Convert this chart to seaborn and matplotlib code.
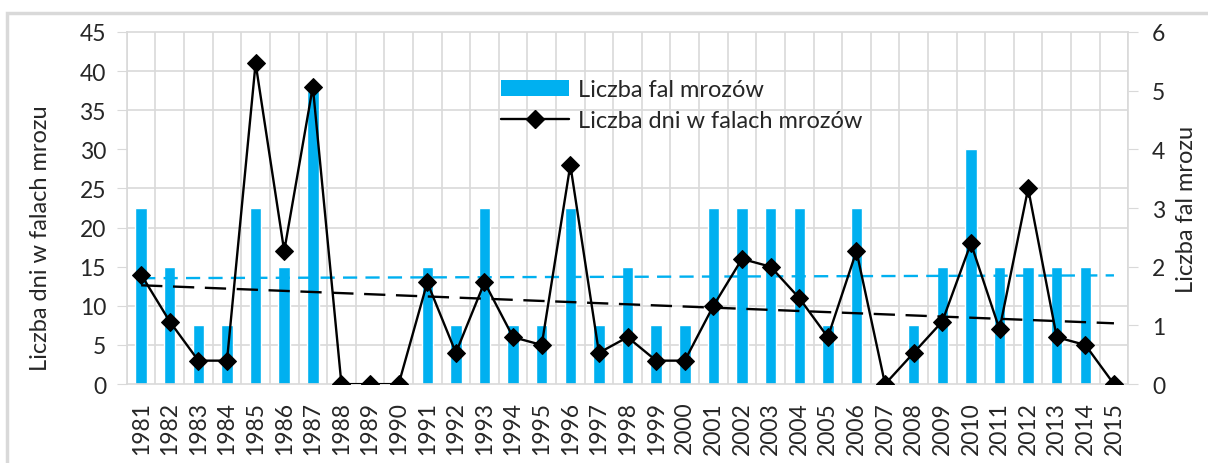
import numpy as np
import matplotlib
matplotlib.use("Agg")
import matplotlib.pyplot as plt
import seaborn as sns
from matplotlib.patches import Rectangle, Patch
from matplotlib.lines import Line2D

# ---------------------------
# Data
# ---------------------------
years = [str(y) for y in range(1981, 2016)]
waves = [3, 2, 1, 1, 3, 2, 5, 0, 0, 0,
         2, 1, 3, 1, 1, 3, 1, 2, 1, 1,
         3, 3, 3, 3, 1, 3, 0, 1, 2, 4,
         2, 2, 2, 2, 0]
days = [14, 8, 3, 3, 41, 17, 38, 0, 0, 0,
        13, 4, 13, 6, 5, 28, 4, 6, 3, 3,
        10, 16, 15, 11, 6, 17, 0, 4, 8, 18,
        7, 25, 6, 5, 0]
label_waves = "Liczba fal mrozów"
label_days = "Liczba dni w falach mrozów"

sns.set_style("white")
plt.rcParams["font.family"] = ["Lato", "DejaVu Sans"]

grid_c = "#D9D9D9"
blue = "#00B0F0"
text_c = "#262626"
tick_fs = 16.5
label_fs = 17

fig = plt.figure(figsize=(12.08, 4.64), dpi=100)
ax_bars = fig.add_axes([0.105, 0.170, 0.829, 0.759])
ax_line = ax_bars.twinx()
# bars on the right axis (back), line on the left axis (front)
ax_bars.yaxis.tick_right()
ax_bars.yaxis.set_label_position("right")
ax_line.yaxis.tick_left()
ax_line.yaxis.set_label_position("left")

# ---------------------------
# Bars
# ---------------------------
sns.barplot(x=years, y=waves, color=blue, width=0.4, saturation=1,
            ax=ax_bars, zorder=2)
ax_bars.set_ylim(0, 6)
ax_bars.set_xlim(-0.5, len(years) - 0.5)
ax_bars.set_yticks(range(0, 7))
ax_bars.set_ylabel("Liczba fal mrozu", fontsize=label_fs, color=text_c,
                   labelpad=8)
ax_bars.set_xlabel("")

# gridlines follow the left axis (every 5 days) and category boundaries
ax_bars.set_yticks(np.arange(0, 45.01, 5) * 6 / 45, minor=True)
ax_bars.set_xticks(np.arange(-0.5, len(years)), minor=True)
ax_bars.grid(which="minor", color=grid_c, linewidth=1.2, zorder=0)
ax_bars.grid(which="major", visible=False)
ax_bars.set_axisbelow(True)
ax_bars.tick_params(axis="x", which="major", length=0, pad=12,
                    labelrotation=90, labelsize=tick_fs, labelcolor=text_c)
ax_bars.tick_params(axis="x", which="minor", length=8, color=grid_c, width=1.2)
ax_bars.tick_params(axis="y", which="major", length=7, color=grid_c,
                    pad=10, labelsize=tick_fs, labelcolor=text_c,
                    right=True, left=False, labelright=True, labelleft=False)
ax_bars.tick_params(axis="y", which="minor", length=0)
for s in ax_bars.spines.values():
    s.set_color(grid_c)
    s.set_linewidth(1.2)

# bars trend (blue dashed)
x = np.arange(len(years))
p_w = np.polyfit(x, waves, 1)
ax_bars.plot([x[0], x[-1]], np.polyval(p_w, [x[0], x[-1]]), color=blue,
             linestyle=(0, (6, 3.5)), linewidth=1.7, zorder=3)

# ---------------------------
# Line
# ---------------------------
sns.lineplot(x=x, y=days, color="black", marker="D", markersize=9,
             markeredgecolor="black", linewidth=1.7, ax=ax_line, zorder=5)
p_d = np.polyfit(x, days, 1)
ax_line.plot([x[0], x[-1]], np.polyval(p_d, [x[0], x[-1]]), color="black",
             linestyle=(0, (9, 4.5)), linewidth=1.7, zorder=4)
ax_line.set_ylim(0, 45)
ax_line.set_yticks(range(0, 46, 5))
ax_line.set_ylabel("Liczba dni w falach mrozu", fontsize=label_fs,
                   color=text_c)
ax_line.yaxis.set_label_coords(-0.076, 0.418)
ax_line.tick_params(axis="y", length=7, color=grid_c, pad=8,
                    labelsize=tick_fs, labelcolor=text_c,
                    left=True, right=False, labelleft=True, labelright=False)
ax_line.set_xlim(-0.5, len(years) - 0.5)
for s in ax_line.spines.values():
    s.set_visible(False)

handles = [Patch(facecolor=blue, edgecolor="none"),
           Line2D([], [], color="black", marker="D", markersize=9, linewidth=1.7)]
ax_line.legend(handles, [label_waves, label_days], loc="upper left",
               bbox_to_anchor=(0.364, 0.892), frameon=False, fontsize=label_fs,
               handlelength=2.9, handletextpad=0.38, labelspacing=0.4,
               borderaxespad=0, labelcolor=text_c)

# light frame around the chart
fig.patches.append(Rectangle((7 / 1208, -0.1), 1.1, 1.1 - 14 / 464,
                             transform=fig.transFigure, fill=False,
                             edgecolor=grid_c, linewidth=2.5))

fig.savefig("out.png", dpi=100)
